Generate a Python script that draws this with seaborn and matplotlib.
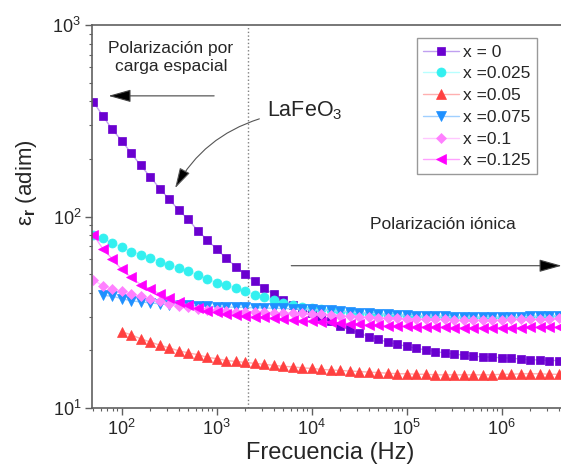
import seaborn as sns
import matplotlib.pyplot as plt

# measurement frequencies (Hz), same sweep for every sample
freq = [50.1, 63.1, 79.4, 100, 126, 158, 200, 251, 316, 398,
        501, 631, 794, 1000, 1259, 1585, 1995, 2512, 3162, 3981,
        5012, 6310, 7943, 10000, 12589, 15849, 19953, 25119, 31623, 39811,
        50119, 63096, 79433, 100000, 125893, 158489, 199526, 251189, 316228, 398107,
        501187, 630957, 794328, 1000000, 1258925, 1584893, 1995262, 2511886, 3162278, 3981072]

labels = ["x = 0", "x =0.025", "x =0.05", "x =0.075", "x =0.1", "x =0.125"]

eps_x0 = [398, 336, 285, 249, 214, 185, 161, 140, 123, 108,
          96.5, 84.4, 75.5, 67.5, 60.5, 54.8, 49.8, 45.8, 42.3, 39.2,
          36.8, 34.6, 32.8, 31.2, 29.7, 28.3, 26.9, 25.7, 24.6, 23.6,
          22.8, 22.1, 21.5, 21.0, 20.5, 20.1, 19.7, 19.4, 19.1, 18.9,
          18.6, 18.5, 18.4, 18.3, 18.2, 18.0, 17.9, 17.8, 17.7, 17.7]
eps_x025 = [80.0, 77.0, 72.6, 69.2, 65.6, 63.1, 60.7, 58.2, 56.0, 53.8,
            51.7, 49.7, 47.3, 45.0, 43.7, 42.3, 40.6, 39.1, 37.8, 36.7,
            35.3, 34.4, 33.7, 33.2, 32.8, 32.4, 32.0, 31.7, 31.4, 31.1,
            30.9, 30.7, 30.5, 30.3, 30.2, 30.0, 29.9, 29.8, 29.7, 29.7,
            29.6, 29.6, 29.6, 29.6, 29.7, 29.8, 29.9, 30.0, 30.2, 30.3]
eps_x05 = [25.0, 24.1, 23.0, 22.1, 21.3, 20.6, 19.9, 19.4, 19.0, 18.4,
           18.1, 17.7, 17.5, 17.3, 17.1, 16.9, 16.7, 16.5, 16.4, 16.2,
           16.1, 15.9, 15.8, 15.7, 15.6, 15.5, 15.4, 15.3, 15.2, 15.1,
           15.1, 15.0, 15.0, 14.9, 14.9, 14.9, 14.9, 14.9, 14.9, 14.9,
           15.0, 15.0, 15.1, 15.1, 15.1, 15.0, 15.0]
eps_x075 = [38.7, 38.4, 37.2, 36.3, 35.8, 35.4, 35.0, 34.7, 34.5, 34.3,
            34.1, 33.9, 33.8, 33.7, 33.6, 33.5, 33.4, 33.3, 33.2, 33.1,
            33.0, 32.9, 32.7, 32.5, 32.3, 32.0, 31.8, 31.5, 31.3, 31.1,
            30.9, 30.7, 30.5, 30.4, 30.3, 30.2, 30.1, 30.0, 29.9, 29.9,
            29.8, 29.8, 29.9, 29.9, 30.0, 30.1, 30.2, 30.3, 30.4]
eps_x1 = [46.8, 43.4, 42.0, 40.6, 39.4, 38.3, 37.2, 36.1, 34.9, 34.2,
          33.5, 33.0, 32.6, 32.3, 32.1, 31.9, 31.8, 31.7, 31.6, 31.5,
          31.4, 31.3, 31.2, 31.0, 30.8, 30.6, 30.4, 30.2, 30.0, 29.8,
          29.6, 29.5, 29.4, 29.3, 29.2, 29.1, 29.0, 29.0, 28.9, 28.9,
          28.9, 28.9, 28.9, 28.9, 29.0, 29.0, 29.1, 29.2, 29.3, 29.4]
eps_x125 = [80.4, 68.0, 60.1, 52.9, 48.1, 44.1, 41.8, 39.5, 37.5, 35.6,
            34.4, 33.3, 32.2, 31.6, 31.1, 30.7, 30.4, 30.0, 29.7, 29.4,
            29.1, 28.8, 28.6, 28.4, 28.2, 28.0, 27.8, 27.6, 27.4, 27.2,
            27.0, 26.9, 26.8, 26.7, 26.6, 26.5, 26.4, 26.4, 26.3, 26.3,
            26.3, 26.3, 26.3, 26.3, 26.3, 26.3, 26.4, 26.4, 26.5, 26.5]

series = [eps_x0, eps_x025, eps_x05, eps_x075, eps_x1, eps_x125]
colors = ["#6a00d0", "#33f0f0", "#ff4040", "#1e90ff", "#ff80ff", "#ff00ff"]
light = ["#c0a0f0", "#b8ffff", "#ffb0b0", "#a0d0ff", "#ffc8ff", "#ffa0ff"]
markers = ["s", "o", "^", "v", "D", "<"]
msizes = [5.5, 6.5, 7, 7, 5.5, 7]

sns.set_style("ticks")
plt.rcParams["font.family"] = ["Liberation Sans", "DejaVu Sans"]
plt.rcParams["mathtext.fontset"] = "custom"
plt.rcParams["mathtext.rm"] = "Liberation Sans"
plt.rcParams["mathtext.it"] = "Liberation Sans:italic"
plt.rcParams["mathtext.bf"] = "Liberation Sans:bold"

fig = plt.figure(figsize=(5.61, 4.72), dpi=100)
ax = fig.add_axes([0.1645, 0.1356, 0.8485, 0.8114])

for vals, lab, c, lc, m, ms in zip(series, labels, colors, light, markers, msizes):
    sns.lineplot(x=freq[-len(vals):], y=vals, ax=ax, label=lab, color=lc,
                 linewidth=1, marker=m, markersize=ms,
                 markerfacecolor=c, markeredgecolor=c, markeredgewidth=0.5)

ax.set_xscale("log")
ax.set_yscale("log")
ax.set_xlim(49.0, 5.01e6)
ax.set_ylim(10, 1000)

# boundary between the two regimes
ax.axvline(2130, color="#808080", linestyle=":", linewidth=1, zorder=0)

for side in ["left", "bottom", "top", "right"]:
    ax.spines[side].set_color("#606060")
    ax.spines[side].set_linewidth(1.2)
ax.tick_params(which="major", direction="out", length=5, width=1,
               color="#606060", labelsize=13, pad=3, top=False, right=False)
ax.tick_params(which="minor", direction="out", length=2.5, width=0.8,
               color="#606060", top=False, right=False)

ax.set_xlabel("Frecuencia (Hz)", fontsize=17, labelpad=2)
ax.set_ylabel(r"ε$_{\mathbf{r}}$ (adim)", fontsize=16)
ax.yaxis.set_label_coords(-0.112, 0.587)

leg = ax.legend(loc="upper left", bbox_to_anchor=(0.682, 0.965), borderaxespad=0,
                frameon=True, fancybox=False, edgecolor="#808080", fontsize=12.5,
                handlelength=2.1, handletextpad=0.2, labelspacing=0.38,
                borderpad=0.35, numpoints=1)
leg.get_frame().set_linewidth(1.0)

ax.text(0.165, 0.915, "Polarización por\ncarga espacial", transform=ax.transAxes,
        ha="center", va="center", fontsize=12.5, linespacing=1.2)
ax.annotate("", xy=(0.034, 0.815), xytext=(0.256, 0.815), xycoords="axes fraction",
            arrowprops=dict(arrowstyle="-|>,head_length=1.0,head_width=0.28",
                            fc="black", ec="#444444", lw=0.8, shrinkA=0, shrinkB=0,
                            mutation_scale=14))

ax.text(0.737, 0.478, "Polarización iónica", transform=ax.transAxes,
        ha="center", va="center", fontsize=12.5)
ax.annotate("", xy=(0.986, 0.3715), xytext=(0.418, 0.3715), xycoords="axes fraction",
            arrowprops=dict(arrowstyle="-|>,head_length=1.0,head_width=0.28",
                            fc="black", ec="#444444", lw=0.8, shrinkA=0, shrinkB=0,
                            mutation_scale=14))

ax.text(0.366, 0.776, r"LaFeO$_3$", transform=ax.transAxes,
        ha="left", va="center", fontsize=15.5)
ax.annotate("", xy=(0.174, 0.574), xytext=(0.351, 0.755), xycoords="axes fraction",
            arrowprops=dict(arrowstyle="-|>,head_length=0.9,head_width=0.25",
                            fc="black", ec="#555555", lw=0.8, shrinkA=0, shrinkB=0,
                            mutation_scale=14, connectionstyle="arc3,rad=0.2"))

fig.savefig("out.png", dpi=100)
